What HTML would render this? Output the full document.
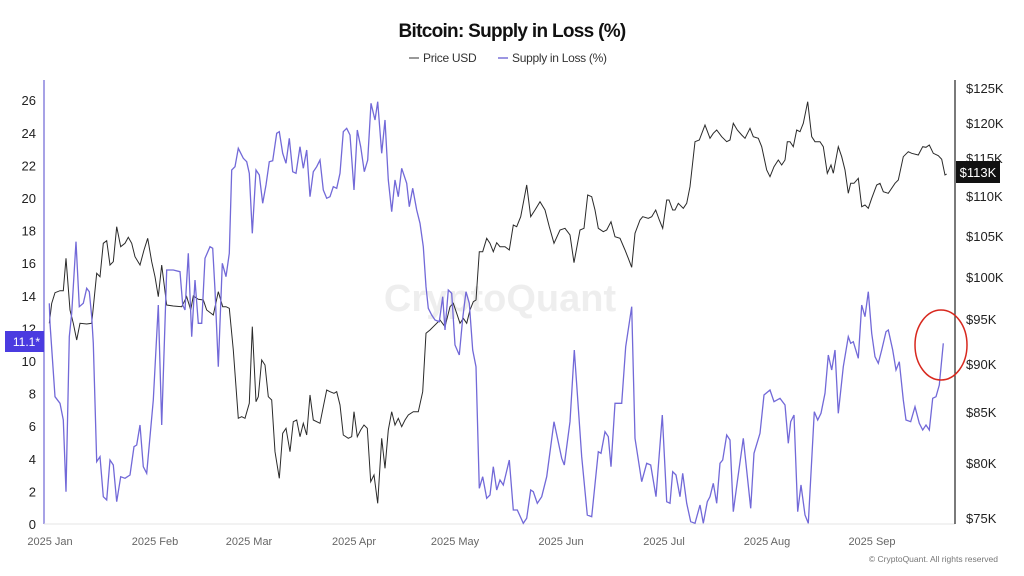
<!DOCTYPE html>
<html><head><meta charset="utf-8"><style>
html,body{margin:0;padding:0;background:#fff;width:1024px;height:576px;overflow:hidden}
svg text{font-family:"Liberation Sans",sans-serif}
</style></head><body>
<svg id="s" width="1024" height="576" viewBox="0 0 1024 576" xmlns="http://www.w3.org/2000/svg">
<text x="512" y="37" text-anchor="middle" font-size="19" font-weight="bold" fill="#111" letter-spacing="-0.7">Bitcoin: Supply in Loss (%)</text>
<line x1="409" y1="58" x2="419" y2="58" stroke="#333" stroke-width="1"/>
<text x="423" y="62" font-size="12" fill="#333" letter-spacing="-0.3">Price USD</text>
<line x1="498" y1="58" x2="508" y2="58" stroke="#7b72d8" stroke-width="1.5"/>
<text x="512" y="62" font-size="12" fill="#333" letter-spacing="-0.3">Supply in Loss (%)</text>
<text x="500" y="311" text-anchor="middle" font-size="38" font-weight="bold" fill="#ebebeb" opacity="0.8">CryptoQuant</text>
<line x1="44" y1="80" x2="44" y2="524" stroke="#8a84de" stroke-width="1.5"/>
<line x1="44" y1="524" x2="955" y2="524" stroke="#e4e4e4" stroke-width="1"/>
<line x1="955" y1="80" x2="955" y2="524" stroke="#222" stroke-width="1.2"/>
<g id="lt" font-size="13" fill="#222" text-anchor="end"></g>
<g id="rt" font-size="13" fill="#222"></g>
<g id="bt" font-size="11" fill="#666" text-anchor="middle"></g>
<polyline id="pb" fill="none" stroke="#2a2a2a" stroke-width="1"/>
<polyline id="pp" fill="none" stroke="#7269d8" stroke-width="1.3"/>
<rect x="5" y="331" width="39" height="21" fill="#4a3be0"/>
<text x="40" y="346" text-anchor="end" font-size="12" fill="#fff">11.1*</text>
<rect x="956" y="161" width="44" height="22" fill="#111"/>
<text x="978" y="177" text-anchor="middle" font-size="13" fill="#fff">$113K</text>
<ellipse cx="941" cy="345" rx="26" ry="35" fill="none" stroke="#d8281e" stroke-width="1.5"/>
<text x="998" y="562" text-anchor="end" font-size="8.5" fill="#777">© CryptoQuant. All rights reserved</text>
</svg>
<script>
var NS="http://www.w3.org/2000/svg";
function t(g,x,y,s){var e=document.createElementNS(NS,"text");e.setAttribute("x",x);e.setAttribute("y",y);e.textContent=s;document.getElementById(g).appendChild(e);}
for(var v=0;v<=26;v+=2){t("lt",36,524-v*16.3+5,v);}
var rp=[[125,88],[120,123],[115,158],[110,196],[105,236],[100,277],[95,319],[90,364],[85,412],[80,463],[75,518]];
rp.forEach(function(p){if(p[0]!=115)t("rt",966,p[1]+5,"$"+p[0]+"K");});
t("rt",966,163,"$115K");
[["Jan",50],["Feb",155],["Mar",249],["Apr",354],["May",455],["Jun",561],["Jul",664],["Aug",767],["Sep",872]].forEach(function(m){t("bt",m[1],545,"2025 "+m[0]);});
var P1=[148,700,150,760,165,980,180,1000,190,1050,198,1265,208,800,215,730,228,515,238,710,250,700,260,655,268,665,275,740,280,820,290,1175,300,1160,310,1280,320,1290,330,1170,340,1185,350,1295,362,1220,375,1225,390,1215,402,1130,410,1125,420,1065,430,1190,440,1210,460,990,475,705,485,1065,500,600,520,600,540,605,548,705,555,720,565,550,575,800,585,630,595,760,605,760,615,565,630,530,638,535,645,660,655,890,667,580,678,620,688,550,695,300,705,290,715,235,730,265,740,275,748,310,757,490,768,300,778,315,788,400,798,345,808,275,818,272,830,190,838,185,848,250,858,280,868,205,878,305,888,310,900,230,910,295,920,240,930,380,940,305,950,290,960,270,970,360,980,385,990,380,1000,350,1010,355,1020,310,1030,185,1040,175,1050,195,1062,360,1072,180,1082,230,1093,305,1103,270,1113,100,1125,150,1133,95,1145,250,1155,150,1165,330,1175,425,1185,330,1195,380,1205,295,1220,340,1228,410,1238,355,1250,420,1260,460,1270,530,1278,650,1285,715,1295,735,1305,750,1318,755,1328,680,1335,780,1345,660,1355,670,1365,825,1378,855,1388,745,1398,665,1408,700,1418,840,1428,890,1438,1255,1448,1220,1460,1285,1470,1275,1480,1190,1490,1260,1500,1230];
var P2=[10,1245,28,1170,40,1320,52,1320,70,1360,80,1345,92,1260,100,1265,112,1300,125,1280,140,1220,162,1055,185,1165,193,1185,210,1055,223,840,245,1160,262,1335,275,1340,295,1145,303,1150,315,1085,325,1100,333,1190,345,1000,365,1000,377,830,395,710,405,1105,425,1235,440,1180,452,1185,468,1280,487,1035,500,1295,510,1300,518,1205,528,1215,540,1280,548,1210,560,1300,572,1355,585,1360,600,1305,610,1360,622,1295,630,1280,640,1240,650,1300,660,1180,668,1170,680,1095,690,1110,700,1325,712,1235,730,1105,752,1315,762,1150,780,1090,792,975,810,960,822,995,840,985,855,1005,865,1120,872,1055,882,1035,893,1325,903,1245,915,1335,925,1360,943,1025,953,1050,963,1030,975,970,985,855,995,900,1005,840,1015,1030,1030,890,1045,800,1052,820,1060,815,1075,865,1085,705,1095,740,1105,665,1115,790,1125,860,1135,880,1145,840,1158,785,1165,780,1178,840,1188,900,1198,875,1210,990,1218,1050,1232,1055,1245,1010,1258,1060,1268,1080,1278,1065,1288,1080,1298,985,1308,980,1318,945,1330,820];
var B1=[148,760,155,700,165,668,180,662,190,662,198,565,210,720,220,760,230,810,240,760,260,762,275,760,290,610,300,620,310,520,320,512,330,585,340,575,350,470,362,530,375,520,385,502,395,520,405,560,420,585,432,540,443,505,455,575,465,620,475,680,485,585,500,705,520,708,545,710,560,680,572,720,580,678,595,688,610,690,620,720,640,735,655,665,668,710,678,710,688,715,700,840,715,1045,725,1040,735,1045,748,1000,757,770,768,995,775,980,785,870,795,885,805,980,815,990,825,1145,838,1225,848,1090,858,1075,870,1145,880,1055,890,1050,900,1100,910,1060,920,1095,930,975,940,1050,960,1060,970,1010,980,960,990,965,1002,970,1010,965,1020,1005,1030,1095,1045,1105,1055,1100,1062,1025,1072,1100,1082,1080,1092,1065,1102,1075,1112,1235,1122,1215,1133,1300,1145,1105,1155,1195,1165,1080,1175,1025,1185,1065,1195,1045,1205,1070,1215,1050,1225,1035,1240,1025,1255,1025,1268,965,1278,790,1290,780,1300,770,1320,750,1335,770,1350,710,1360,700,1370,730,1380,760,1390,745,1400,760,1410,720,1420,695,1428,690,1438,545,1448,545,1460,505,1470,520,1480,545,1490,518,1500,530];
var B2=[15,530,28,540,40,465,50,470,62,440,80,345,92,440,105,420,120,395,135,420,148,470,162,520,180,480,195,475,210,495,222,578,240,480,252,475,263,375,275,380,285,420,295,475,310,485,320,480,333,455,345,500,360,505,375,540,385,565,395,592,405,490,420,450,428,440,445,445,455,440,467,420,478,450,488,475,500,390,507,390,518,420,525,420,535,400,550,415,560,400,570,350,585,215,598,210,615,165,630,205,640,190,650,180,665,200,680,215,690,210,700,160,712,180,725,195,735,205,750,175,760,200,775,205,785,230,800,300,810,320,822,290,835,270,845,285,855,270,862,215,870,215,880,230,890,180,900,185,910,160,923,95,935,200,945,215,960,215,970,230,982,310,993,285,1000,310,1015,230,1025,260,1035,300,1045,370,1052,340,1062,340,1075,325,1085,410,1095,405,1105,415,1115,385,1130,345,1140,340,1150,365,1165,370,1185,340,1195,330,1210,260,1225,245,1235,250,1255,255,1268,230,1278,232,1288,225,1300,250,1315,257,1325,268,1335,315,1340,312];
function pts(a,ox){var s=[];for(var i=0;i<a.length;i+=2)s.push((ox+a[i]/3).toFixed(1)+","+(70+a[i+1]/3).toFixed(1));return s.join(" ");}
document.getElementById("pp").setAttribute("points",pts(P1,0)+" "+pts(P2,500));
document.getElementById("pb").setAttribute("points",pts(B1,0)+" "+pts(B2,500));
var s=document.getElementById("s");
// bring badge to front over labels
["rect","text"].forEach(function(){});
var r=s.querySelector('rect[x="5"]'),tx=r.nextElementSibling;s.appendChild(r);s.appendChild(tx);
</script>
</body></html>
